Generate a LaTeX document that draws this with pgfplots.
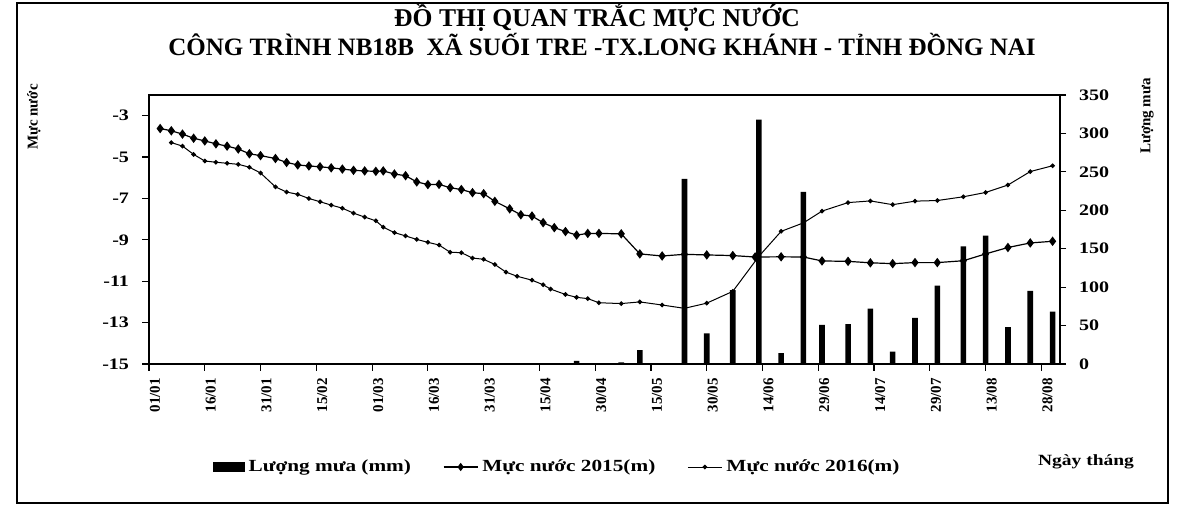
\documentclass[border=0pt]{standalone}
\usepackage{fontspec}
\setmainfont{Liberation Serif}
\newfontfamily\sfont{Liberation Serif}[FakeStretch=1.25]
\usepackage{pgfplots}
\pgfplotsset{compat=1.18}
\usepackage{pgfplotstable}

\pgfplotstableread{
day lvl
3 -3.62
6 -3.73
9 -3.89
12 -4.09
15 -4.22
18 -4.36
21 -4.47
24 -4.61
27 -4.84
30 -4.93
34 -5.07
37 -5.26
40 -5.38
43 -5.43
46 -5.47
49 -5.52
52 -5.58
55 -5.64
58 -5.67
61 -5.69
63 -5.67
66 -5.82
69 -5.90
72 -6.20
75 -6.33
78 -6.32
81 -6.48
84 -6.57
87 -6.72
90 -6.77
93 -7.14
97 -7.50
100 -7.79
103 -7.85
106 -8.17
109 -8.41
112 -8.60
115 -8.77
118 -8.69
121 -8.69
127 -8.71
132 -9.68
138 -9.78
144 -9.70
150 -9.73
157 -9.76
163 -9.83
170 -9.82
176 -9.83
181 -10.02
188 -10.04
194 -10.11
200 -10.15
206 -10.10
212 -10.10
219 -10.01
225 -9.68
231 -9.37
237 -9.15
243 -9.07
}\seriesA

\pgfplotstableread{
day lvl
6 -4.30
9 -4.47
12 -4.87
15 -5.19
18 -5.25
21 -5.30
24 -5.35
27 -5.49
30 -5.77
34 -6.44
37 -6.69
40 -6.80
43 -7.00
46 -7.16
49 -7.32
52 -7.47
55 -7.71
58 -7.90
61 -8.08
63 -8.39
66 -8.65
69 -8.81
72 -8.98
75 -9.12
78 -9.25
81 -9.60
84 -9.62
87 -9.88
90 -9.94
93 -10.19
96 -10.56
99 -10.76
103 -10.95
106 -11.17
108 -11.38
112 -11.64
115 -11.78
118 -11.84
121 -12.04
127 -12.08
132 -12.00
138 -12.15
144 -12.31
150 -12.06
157 -11.49
164 -9.80
170 -8.59
176 -8.18
181 -7.61
188 -7.20
194 -7.12
200 -7.30
206 -7.13
212 -7.10
219 -6.92
225 -6.71
231 -6.35
237 -5.70
243 -5.42
}\seriesB

\pgfplotstableread{
day rain
115 4
127 2
132 18
138 1
144 241
150 40
157 96
164 318
170 14
176 224
181 51
188 52
194 72
200 16
206 60
212 102
219 153
225 167
231 48
237 95
243 68
}\rainT

\begin{document}
\begin{tikzpicture}[x=0.5pt,y=0.5pt]
\useasboundingbox (0,0) rectangle (1183,508);
\draw[line width=0.8pt] (17,5) rectangle (1168,505);
\node[font=\fontsize{12.8}{14}\selectfont\bfseries] at (597,490) {ĐỒ THỊ QUAN TRẮC MỰC NƯỚC};
\node[font=\fontsize{12.5}{14}\selectfont\bfseries] at (602,463) {CÔNG TRÌNH NB18B\ \ XÃ SUỐI TRE -TX.LONG KHÁNH - TỈNH ĐỒNG NAI};
\node[rotate=90, font=\fontsize{7.5}{8}\selectfont\bfseries] at (34,391) {Mực nước};
\node[rotate=90, font=\fontsize{7.5}{8}\selectfont\bfseries] at (1147,392) {Lượng mưa};
\node[font=\sfont\fontsize{7.8}{10}\selectfont\bfseries] at (1086,46) {Ngày tháng};

\begin{axis}[
  at={(74.5pt,72pt)}, anchor=south west,
  width=455.5pt, height=134.5pt, scale only axis,
  xmin=0, xmax=245, ymin=-15, ymax=-2,
  xtick={0,15,...,240},
  xticklabels={01/01,16/01,31/01,15/02,01/03,16/03,31/03,15/04,30/04,15/05,30/05,14/06,29/06,14/07,29/07,13/08,28/08},
  ytick={-15,-13,-11,-9,-7,-5,-3},
  yticklabels={-15,-13,-11,-9,-7,-5,-3},
  xtick pos=left, ytick pos=left, tick align=outside,
  major tick length=3.5pt,
  tick style={line width=0.6pt, black},
  xticklabel style={rotate=90, anchor=east, font=\fontsize{7.5}{8}\selectfont\bfseries, yshift=-3pt},
  yticklabel style={font=\sfont\fontsize{8}{9}\selectfont\bfseries, xshift=-3pt},
  axis line style={line width=0.7pt},
]
\addplot[black, line width=0.6pt, mark=diamond*, mark size=1.9pt] table[x=day,y=lvl] {\seriesA};
\addplot[black, line width=0.5pt, mark=*, mark size=0.9pt] table[x=day,y=lvl] {\seriesB};
\end{axis}

\begin{axis}[
  at={(74.5pt,72pt)}, anchor=south west,
  width=455.5pt, height=134.5pt, scale only axis,
  xmin=0, xmax=245, ymin=0, ymax=350,
  axis x line=none, axis y line*=right,
  ytick={0,50,100,150,200,250,300,350},
  yticklabels={0,50,100,150,200,250,300,350},
  tick align=outside, major tick length=3pt,
  tick style={line width=0.6pt, black},
  yticklabel style={font=\sfont\fontsize{8}{9}\selectfont\bfseries, xshift=3pt},
  axis line style={line width=0.7pt},
  legend style={at={(0.449,-0.383)}, anchor=center, draw=none, fill=none,
    font=\sfont\fontsize{8.5}{9}\selectfont\bfseries,
    /tikz/every even column/.append style={column sep=14pt}},
  legend columns=3,
]
\addplot[ybar, bar width=2.8pt, bar shift=0pt, fill=black, draw=none,
  legend image code/.code={\fill[black] (0pt,-2.5pt) rectangle (16pt,2.5pt);}]
  table[x=day,y=rain] {\rainT};
\addlegendentry{Lượng mưa (mm)}
\addlegendimage{line legend, black, line width=0.6pt, mark=diamond*, mark size=1.6pt}
\addlegendentry{Mực nước 2015(m)}
\addlegendimage{line legend, black, line width=0.5pt, mark=*, mark size=0.9pt}
\addlegendentry{Mực nước 2016(m)}
\end{axis}
\end{tikzpicture}
\end{document}
